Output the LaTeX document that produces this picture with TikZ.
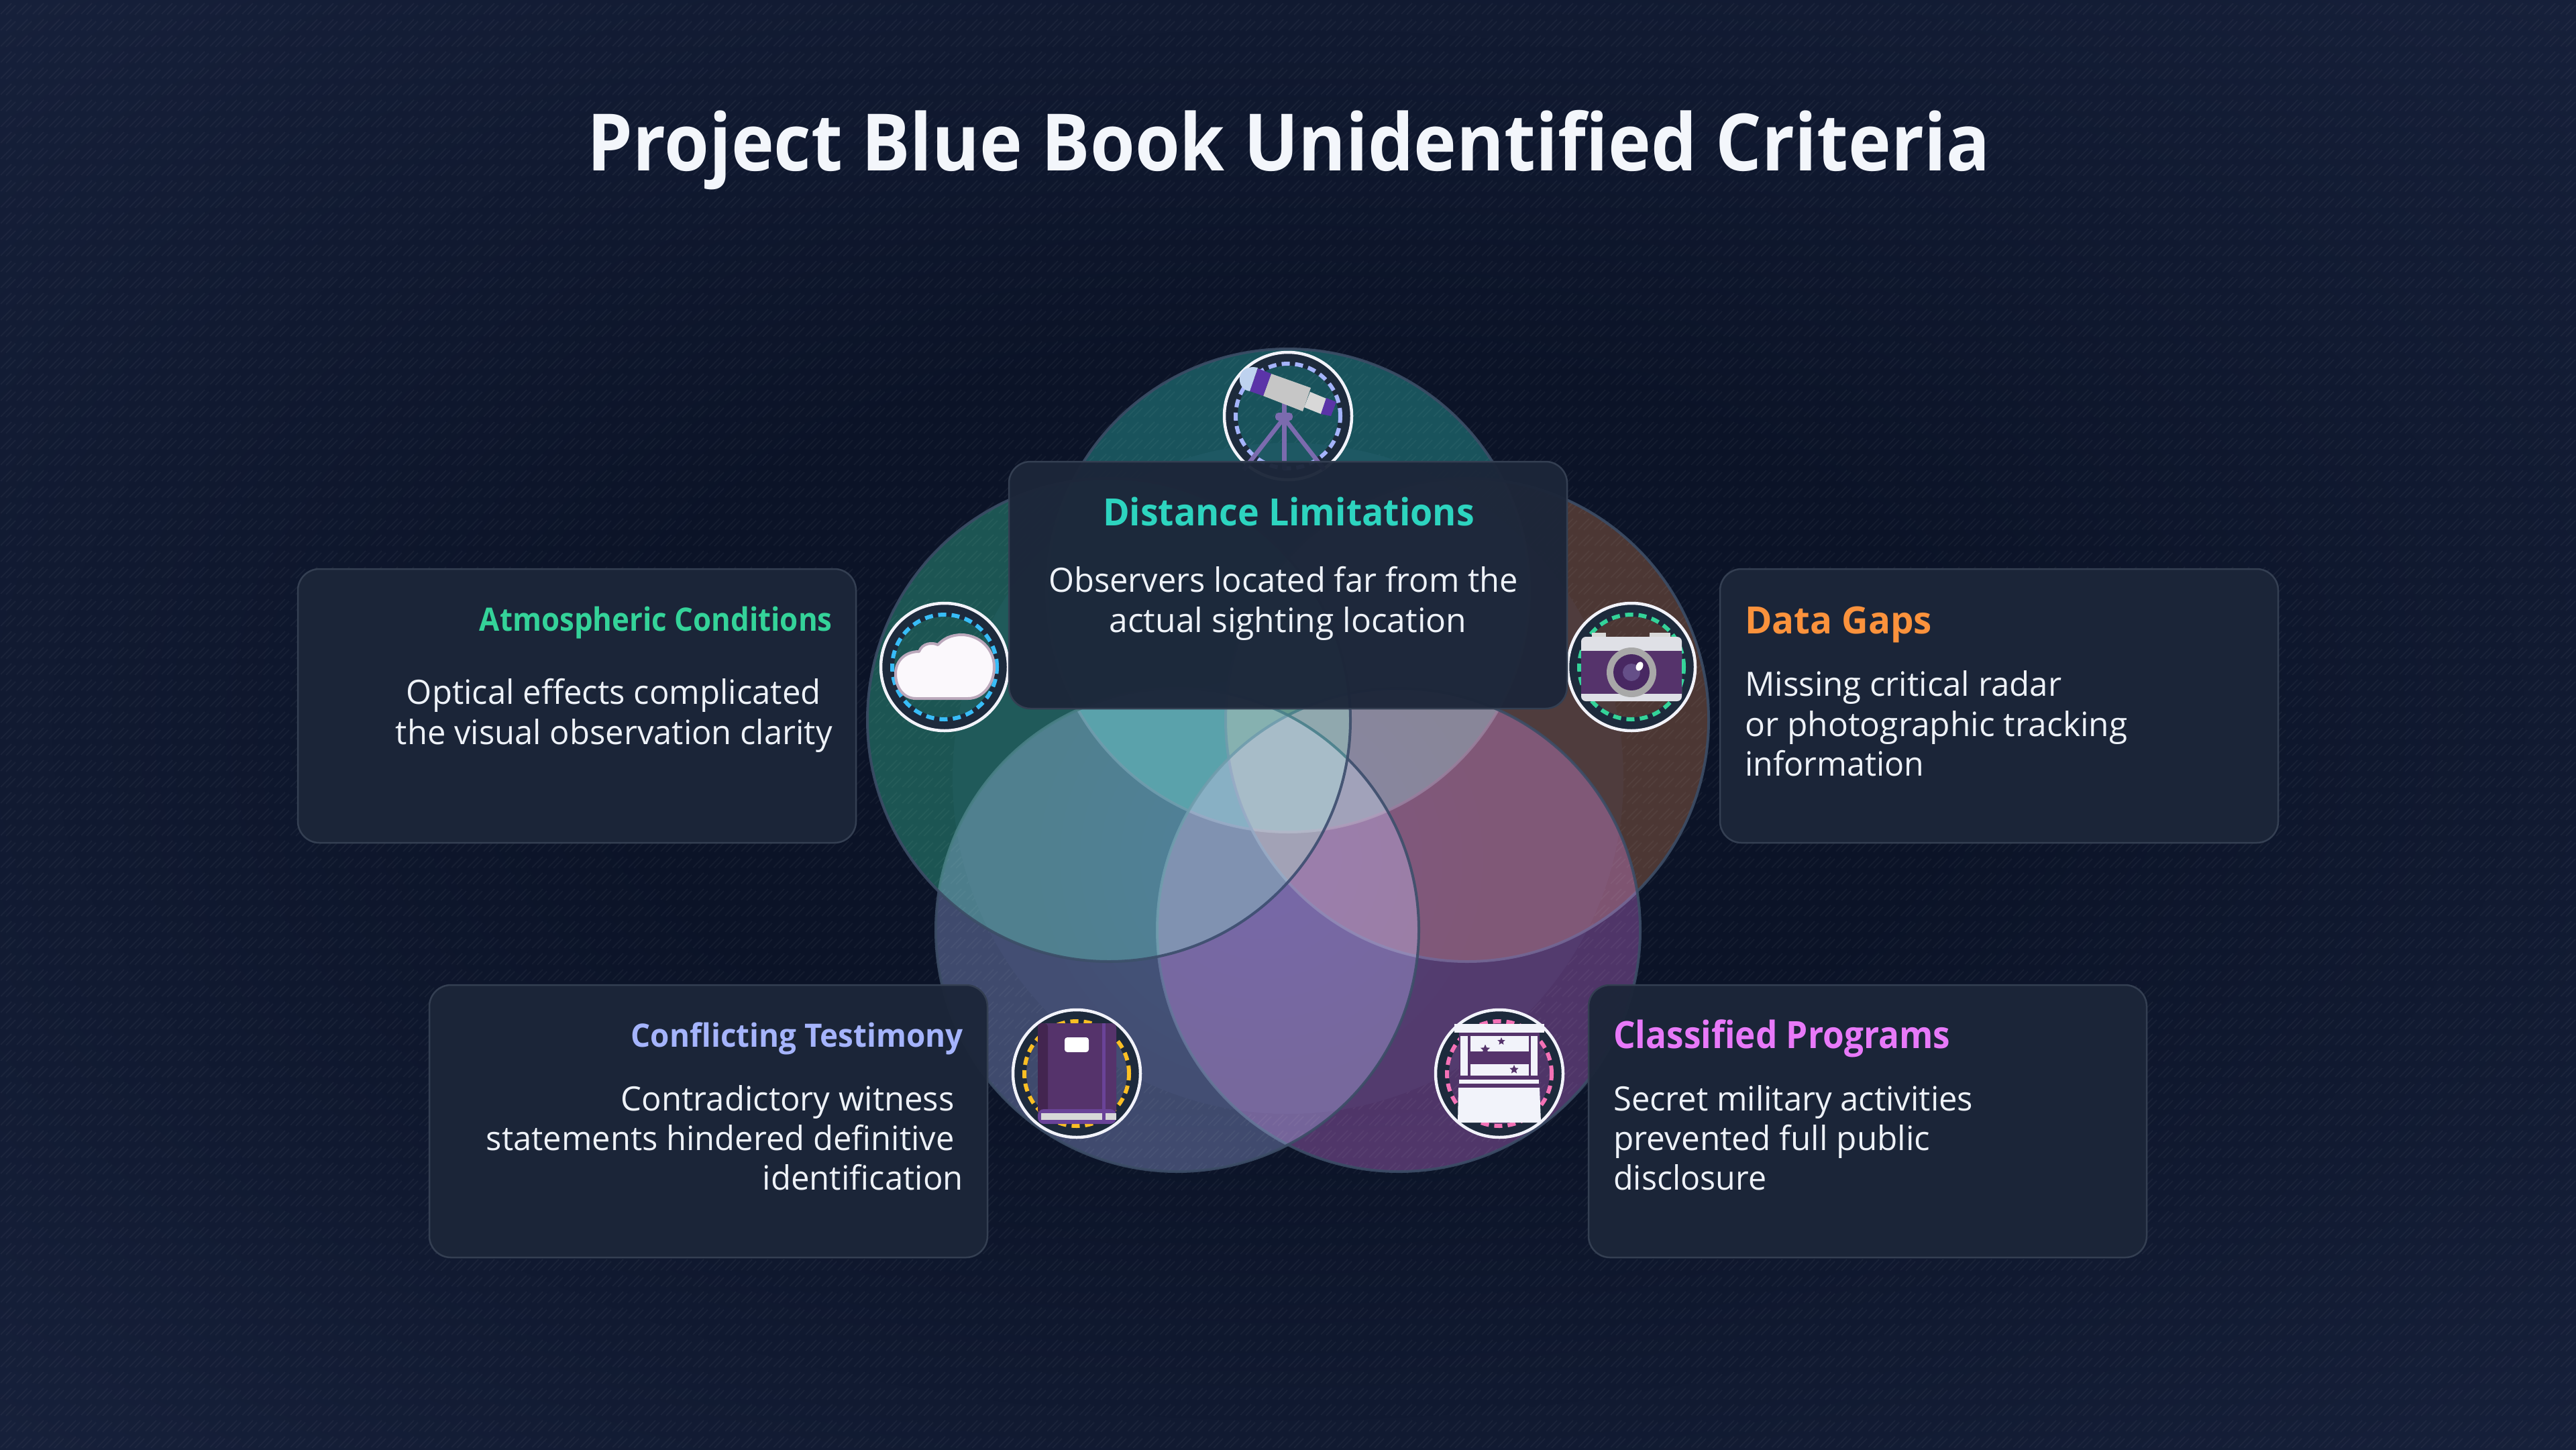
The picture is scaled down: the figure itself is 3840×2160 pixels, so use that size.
\documentclass[tikz,border=0pt]{standalone}
\usepackage{fontspec}
\usepackage{graphicx}
\setmainfont{Open Sans}
\usetikzlibrary{patterns,shapes.geometric}
\definecolor{bgin}{HTML}{0B1327}
\definecolor{bgout}{HTML}{16203A}
\definecolor{cteal}{HTML}{2DD4BF}
\definecolor{cgreen}{HTML}{34D399}
\definecolor{corange}{HTML}{FB923C}
\definecolor{cindigo}{HTML}{A5B4FC}
\definecolor{cpink}{HTML}{E879F9}
\definecolor{csky}{HTML}{38BDF8}
\definecolor{camber}{HTML}{FBBF24}
\definecolor{crose}{HTML}{F472B6}
\definecolor{cardfill}{HTML}{1C2639}
\definecolor{cardline}{HTML}{343F52}
\definecolor{edgeline}{HTML}{3C4D66}
\definecolor{ringfill}{HTML}{1D2A3C}
\definecolor{bodytext}{HTML}{EEF2F8}
\definecolor{titletext}{HTML}{F3F6FB}
\definecolor{ipurple}{HTML}{55336B}
\definecolor{ideep}{HTML}{432550}
\definecolor{iviolet}{HTML}{5B34A8}
\definecolor{imid}{HTML}{6A4398}
\definecolor{igrey}{HTML}{C6C6C6}
\definecolor{ilight}{HTML}{D8D8D8}
\definecolor{iwhite}{HTML}{F2F3FA}
\definecolor{itri}{HTML}{7B6BAE}
\definecolor{glowblue}{HTML}{3F7BFF}
\pgfdeclareradialshading{bgvig}{\pgfpointorigin}{color(0bp)=(bgin);color(13bp)=(bgin);color(35bp)=(bgout);color(50bp)=(bgout)}
\pgfdeclarepatternformonly{hatchpx}{\pgfpoint{-1pt}{-1pt}}{\pgfpoint{25pt}{25pt}}{\pgfpoint{24pt}{24pt}}{%
  \pgfsetlinewidth{2pt}%
  \pgfpathmoveto{\pgfpoint{1pt}{3pt}}\pgfpathlineto{\pgfpoint{17pt}{19pt}}%
  \pgfpathmoveto{\pgfpoint{9pt}{2pt}}\pgfpathlineto{\pgfpoint{23pt}{16pt}}%
  \pgfusepath{stroke}}
\newcommand{\fitw}[3]{\resizebox{#2pt}{\height}{\fontsize{#1}{#1}\selectfont #3}}
% a disc that lightens what lies under it, with its rim on top
\newcommand{\screendisc}[4]{%
  \begin{scope}[blend mode=screen]\fill[#3,fill opacity=#4] (#1,#2) circle (360pt);\end{scope}%
  \draw[edgeline,draw opacity=.9,line width=4pt] (#1,#2) circle (360pt);}
\tikzset{
  cardbox/.style={fill=cardfill,fill opacity=.96,draw=cardline,line width=2.5pt,rounded corners=32pt},
  ringbase/.style={draw=ringfill,line width=21pt},
  ringedge/.style={draw=iwhite,line width=4.5pt},
  ringdash/.style={draw=#1,line width=6pt,dash pattern=on 12pt off 8pt},
  headT/.style={inner sep=0pt,text=#1,font=\bfseries},
  bodyT/.style={inner sep=0pt,text=bodytext},
  starmark/.style={star,star points=5,star point ratio=2.2,fill=ipurple,inner sep=0pt,minimum size=#1,draw=none},
}
\begin{document}
\begin{tikzpicture}[x=1pt,y=-1pt]
\useasboundingbox (0,0) rectangle (3840,2160);
\shade[shading=bgvig] (0,0) rectangle (3840,2160);
\fill[pattern=hatchpx,pattern color=white,opacity=.04,even odd rule] (0,0) rectangle (3840,2160) (1920,1160) circle (500pt);
% five circles
\fill[bgout,opacity=.5] (1920,1160) circle (500pt);
\screendisc{1920}{880}{cteal}{.33}
\screendisc{2187}{1073}{corange}{.27}
\screendisc{2085}{1386}{cpink}{.31}
\screendisc{1755}{1386}{cindigo}{.33}
\screendisc{1653}{1073}{cgreen}{.34}
% centre glow
\begin{scope}[blend mode=screen]
\foreach \r in {60,90,...,330}{\fill[glowblue,opacity=.012] (1880,1280) circle (\r pt);}
\end{scope}
% telescope icon
\begin{scope}[shift={(1920,620)}]
  \draw[ringbase] (0,0) circle (85.5pt);
  \draw[ringdash=cindigo] (0,0) circle (78pt);
  \draw[ringedge] (0,0) circle (95pt);
  \draw[itri,line width=7pt] (-6,-20) -- (-6,80);
  \draw[itri,line width=6.5pt] (-6,3) -- (-66,80);
  \draw[itri,line width=6.5pt] (-6,3) -- (54,80);
  \fill[itri,rounded corners=5pt] (-19,-5) rectangle (7,7);
  \fill[ilight] (33,-36) -- (57,-26) -- (49,-3) -- (24,-13) -- cycle;
  \fill[igrey] (-25,-63) -- (34,-42) -- (22,-7) -- (-37,-30) -- cycle;
  \fill[iviolet] (57,-27) -- (72,-21) -- (64,0) -- (49,-3) -- cycle;
  \fill[iviolet] (-45,-71) -- (-25,-63) -- (-37,-30) -- (-57,-37) -- cycle;
  \fill[cyan!25!cindigo!50!white] (-45,-72) .. controls (-62,-76) and (-74,-66) .. (-72,-52) .. controls (-71,-44) and (-65,-38) .. (-57,-37) -- cycle;
\end{scope}
% cloud icon
\begin{scope}[shift={(1408,994)}]
  \draw[ringbase] (0,0) circle (85.5pt);
  \draw[ringdash=csky] (0,0) circle (78pt);
  \draw[ringedge] (0,0) circle (95pt);
  \draw[fill=iwhite!70!violet!8!white,draw=igrey!85!violet,line width=4pt,line join=round]
    (-43,47) -- (35,47) .. controls (58,47) and (74,25) .. (74,0) .. controls (74,-27) and (52,-48) .. (25,-48) .. controls (10,-48) and (-2,-42) .. (-10,-33) .. controls (-18,-37) and (-33,-36) .. (-38,-23) .. controls (-60,-23) and (-73,-8) .. (-73,10) .. controls (-73,32) and (-60,47) .. (-43,47) -- cycle;
\end{scope}
% camera icon
\begin{scope}[shift={(2432,994)}]
  \draw[ringbase] (0,0) circle (85.5pt);
  \draw[ringdash=cgreen] (0,0) circle (78pt);
  \draw[ringedge] (0,0) circle (95pt);
  \fill[ilight] (-59,-51) rectangle (-38,-44);
  \fill[ilight] (27,-51) rectangle (58,-44);
  \fill[iwhite!92!black,rounded corners=7pt] (-75,-45) rectangle (75,51);
  \fill[ipurple] (-75,-24) rectangle (75,40);
  \fill[igrey!85!black] (0,8) circle (37pt);
  \fill[ideep!80!iviolet] (0,8) circle (27pt);
  \fill[itri!60!ideep] (0,8) circle (13pt);
  \fill[white,rotate around={-25:(12,-1)}] (12,-1) ellipse (5pt and 7pt);
\end{scope}
% book icon
\begin{scope}[shift={(1605,1600)}]
  \draw[ringbase] (0,0) circle (85.5pt);
  \draw[ringdash=camber] (0,0) circle (78pt);
  \draw[ringedge] (0,0) circle (95pt);
  \fill[ipurple,rounded corners=7pt] (-58,-75) rectangle (59,60);
  \fill[ideep,rounded corners=5pt] (-58,-75) rectangle (-43,60);
  \fill[imid] (38,-75) rectangle (43,56);
  \fill[imid,rounded corners=9pt] (-58,53) -- (59,53) -- (59,75) -- (-58,75) -- cycle;
  \fill[ilight] (-53,59) rectangle (38,69);
  \fill[ilight] (43,59) rectangle (59,69);
  \fill[white,rounded corners=4pt] (-18,-54) rectangle (18,-32);
\end{scope}
% classified icon
\begin{scope}[shift={(2235,1600)}]
  \draw[ringbase] (0,0) circle (85.5pt);
  \draw[ringdash=crose] (0,0) circle (78pt);
  \draw[ringedge] (0,0) circle (95pt);
  \fill[ipurple] (-60,-61) rectangle (60,21);
  \fill[iwhite] (-67,-74) rectangle (67,-61);
  \fill[iwhite] (-58,-56) rectangle (-47,3);
  \fill[iwhite] (47,-56) rectangle (57,3);
  \fill[iwhite] (-43,-56) rectangle (44,-33);
  \fill[iwhite] (-43,-14) rectangle (44,3);
  \fill[iwhite] (-60,9) rectangle (59,15);
  \fill[iwhite] (-61,21) -- (60,21) -- (62,73) -- (-62,73) -- cycle;
  \node[starmark=12pt] (starone) at (3,-48) {};
  \node[starmark=15pt] (startwo) at (-21,-36) {};
  \node[starmark=14pt] (starthree) at (22,-6) {};
\end{scope}
% cards
\path[cardbox] (444,848) rectangle (1276,1256);
\path[cardbox] (2564,848) rectangle (3396,1256);
\path[cardbox] (640,1468) rectangle (1472,1874);
\path[cardbox] (2368,1468) rectangle (3200,1874);
\path[cardbox] (1504,688) rectangle (2336,1056);
% title
\node[anchor=base,inner sep=0pt,text=titletext,font=\bfseries] (title) at (1921,254) {\fitw{118}{2091}{Project Blue Book Unidentified Criteria}};
% top card
\node[anchor=base,headT=cteal] (dh) at (1921,783) {\fitw{56}{554}{Distance Limitations}};
\node[anchor=base,bodyT] (d1) at (1913,882) {\fitw{50}{700}{Observers located far from the}};
\node[anchor=base,bodyT] (d2) at (1920,942) {\fitw{50}{533}{actual sighting location}};
% left card
\node[anchor=base east,headT=cgreen] (ah) at (1241,940) {\fitw{48}{526}{Atmospheric Conditions}};
\node[anchor=base east,bodyT] (a1) at (1224,1049) {\fitw{50}{618}{Optical effects complicated}};
\node[anchor=base east,bodyT] (a2) at (1241,1109) {\fitw{50}{651}{the visual observation clarity}};
% right card
\node[anchor=base west,headT=corange] (gh) at (2601,944) {\fitw{56}{279}{Data Gaps}};
\node[anchor=base west,bodyT] (g1) at (2601,1037) {\fitw{50}{472}{Missing critical radar}};
\node[anchor=base west,bodyT] (g2) at (2601,1097) {\fitw{50}{570}{or photographic tracking}};
\node[anchor=base west,bodyT] (g3) at (2601,1156) {\fitw{50}{267}{information}};
% bottom left card
\node[anchor=base east,headT=cindigo] (ch) at (1436,1560) {\fitw{48}{495}{Conflicting Testimony}};
\node[anchor=base east,bodyT] (c1) at (1423,1655) {\fitw{50}{497}{Contradictory witness}};
\node[anchor=base east,bodyT] (c2) at (1423,1714) {\fitw{50}{698}{statements hindered definitive}};
\node[anchor=base east,bodyT] (c3) at (1436,1773) {\fitw{50}{299}{identification}};
% bottom right card
\node[anchor=base west,headT=cpink] (ph) at (2405,1562) {\fitw{56}{502}{Classified Programs}};
\node[anchor=base west,bodyT] (p1) at (2405,1655) {\fitw{50}{536}{Secret military activities}};
\node[anchor=base west,bodyT] (p2) at (2405,1714) {\fitw{50}{472}{prevented full public}};
\node[anchor=base west,bodyT] (p3) at (2405,1773) {\fitw{50}{228}{disclosure}};
\end{tikzpicture}
\end{document}
